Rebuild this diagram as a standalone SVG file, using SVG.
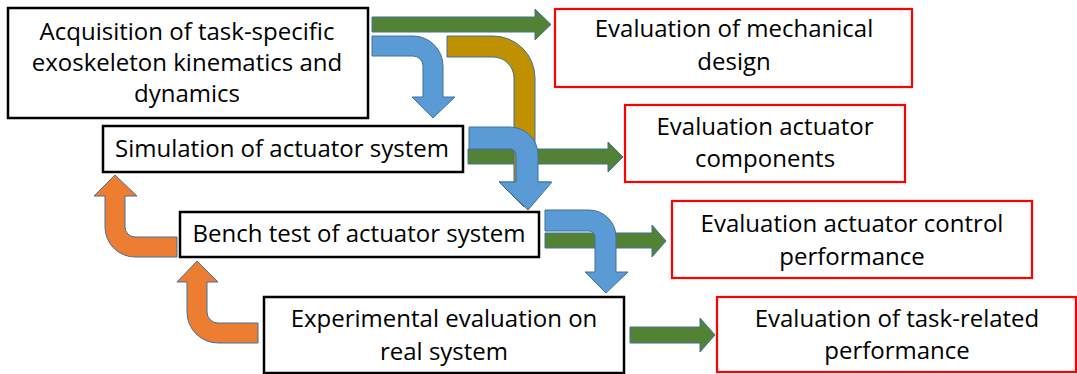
<svg xmlns="http://www.w3.org/2000/svg" width="1077" height="374" viewBox="0 0 1077 374">
<style>
.bx{fill:#fff;stroke:#000;stroke-width:2.5}
.rb{fill:#fff;stroke:#ff0000;stroke-width:2.2}
.t{font-family:"Open Sans","Noto Sans",sans-serif;font-size:24px;fill:#000;text-anchor:middle}
.g{fill:#548235;stroke:#41719C;stroke-width:1}
.b{fill:#5B9BD5;stroke:#41719C;stroke-width:1}
.y{fill:#BF9000;stroke:#41719C;stroke-width:1}
.o{fill:#ED7D31;stroke:#41719C;stroke-width:1}
</style>
<rect width="1077" height="374" fill="#fff"/>
<g id="connectors">
<path class="g" d="M372,17 H535 V9 L551,24.5 L535,40 V32 H372 Z"/>
<path class="g" d="M468,149 H608 V142 L623,157 L608,172 V164 H468 Z"/>
<path class="g" d="M545,233 H652 V225 L666,241 L652,257 V248 H545 Z"/>
<path class="g" d="M630,327 H700 V318 L715,335 L700,352 V343 H630 Z"/>
<path class="y" d="M447,36 H493 A42,42 0 0 1 535,78 V182 H550 L524,207 L499,182 H514 V78 A21,21 0 0 0 493,57 H447 Z"/>
<path class="b" d="M372,36 H413 A30,30 0 0 1 443,66 V97 H455 L433,118 L412,97 H423 V66 A10,10 0 0 0 413,56 H372 Z"/>
<path class="b" d="M469,127 H510 A28,28 0 0 1 538,155 V182 H552 L528,210 L499,182 H516 V155 A6,6 0 0 0 510,149 H469 Z"/>
<path class="b" d="M545,210 H589 A27,27 0 0 1 616,237 V272 H628 L606,293 L585,272 H595 V237 A6,6 0 0 0 589,231 H545 Z"/>
<path class="o" d="M177,237 H135 A10,10 0 0 1 125,227 V196 H137 L115,175 L94,196 H105 V227 A30,30 0 0 0 135,257 H177 Z"/>
<path class="o" d="M258,323 H218 A11,11 0 0 1 207,312 V282 H218 L197,261 L177,282 H187 V312 A31,31 0 0 0 218,343 H258 Z"/>
</g>
<g id="acquisition">
<rect class="bx" x="8" y="8" width="360" height="110"/>
<text class="t" x="187" y="40">Acquisition of task-specific</text>
<text class="t" x="187" y="71">exoskeleton kinematics and</text>
<text class="t" x="187" y="102">dynamics</text>
</g>
<g id="simulation">
<rect class="bx" x="103" y="126" width="360" height="46"/>
<text class="t" x="282" y="157">Simulation of actuator system</text>
</g>
<g id="bench">
<rect class="bx" x="180" y="212" width="359" height="45"/>
<text class="t" x="359" y="242">Bench test of actuator system</text>
</g>
<g id="experimental">
<rect class="bx" x="264" y="297" width="360" height="76"/>
<text class="t" x="444" y="327">Experimental evaluation on</text>
<text class="t" x="444" y="360">real system</text>
</g>
<g id="eval-mechanical">
<rect class="rb" x="555" y="9" width="357" height="78"/>
<text class="t" x="734" y="37">Evaluation of mechanical</text>
<text class="t" x="734" y="70">design</text>
</g>
<g id="eval-components">
<rect class="rb" x="625" y="105" width="280" height="77"/>
<text class="t" x="765" y="135">Evaluation actuator</text>
<text class="t" x="765" y="167">components</text>
</g>
<g id="eval-control">
<rect class="rb" x="672" y="201" width="360" height="77"/>
<text class="t" x="852" y="232">Evaluation actuator control</text>
<text class="t" x="852" y="265">performance</text>
</g>
<g id="eval-task">
<rect class="rb" x="717" y="297" width="359" height="75"/>
<text class="t" x="897" y="327">Evaluation of task-related</text>
<text class="t" x="897" y="359">performance</text>
</g>
</svg>
